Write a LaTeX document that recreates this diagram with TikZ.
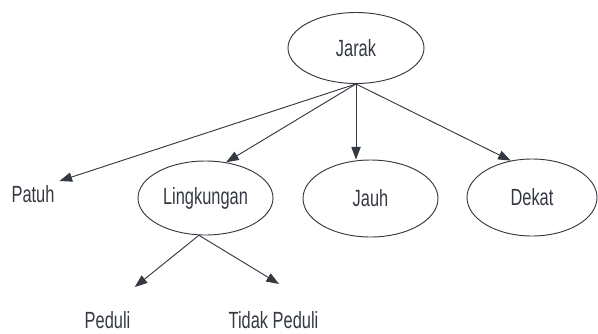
\documentclass[tikz,border=0pt]{standalone}
\usepackage{fontspec}
\setmainfont{Liberation Sans}[FakeStretch=0.7]
\usepackage{tikz}
\usetikzlibrary{shapes.geometric,arrows.meta}
\definecolor{inkgrey}{RGB}{52,57,66}

\begin{document}
\begin{tikzpicture}[x=0.03cm,y=-0.03cm,>={Triangle[length=0.38cm,width=0.28cm]},
  txt/.style={text=inkgrey,font=\fontsize{20}{24}\selectfont},
  oval/.style={txt,draw=inkgrey,ellipse,inner sep=0pt,line width=0.8pt,minimum width=4.05cm,minimum height=2.25cm},
  lbl/.style={txt,inner sep=1.5pt,anchor=base},
  arr/.style={->,draw=inkgrey,line width=0.8pt}]
\useasboundingbox (0,0) rectangle (598,333);
% raiz
\node[oval,minimum width=4.08cm,minimum height=2.13cm] (jarak) at (356,48) {Jarak};
% nivel 1
\node[lbl] (patuh) at (33,202) {Patuh};
\node[oval,minimum height=2.22cm] (lingk) at (205.5,198) {Lingkungan};
\node[oval,minimum height=2.31cm] (jauh) at (370.5,198.5) {Jauh};
\node[oval,minimum width=3.9cm,minimum height=2.31cm] (dekat) at (532,197.5) {Dekat};
% nivel 2
\node[lbl] (peduli) at (107.5,328) {Peduli};
\node[lbl] (tidak) at (273.5,328) {Tidak Peduli};
% flechas
\draw[arr] (jarak.south) -- ([shift={(3,-2)}]patuh.north east);
\draw[arr] (jarak.south) -- (lingk.60);
\draw[arr] (jarak.south) -- (jarak.south |- jauh.north);
\draw[arr] (jarak.south) -- (dekat.120);
\draw[arr,shorten >=1.05cm] (lingk.260) -- (peduli.north);
\draw[arr,shorten >=1.45cm] (lingk.260) -- (tidak.north east);
\end{tikzpicture}
\end{document}
